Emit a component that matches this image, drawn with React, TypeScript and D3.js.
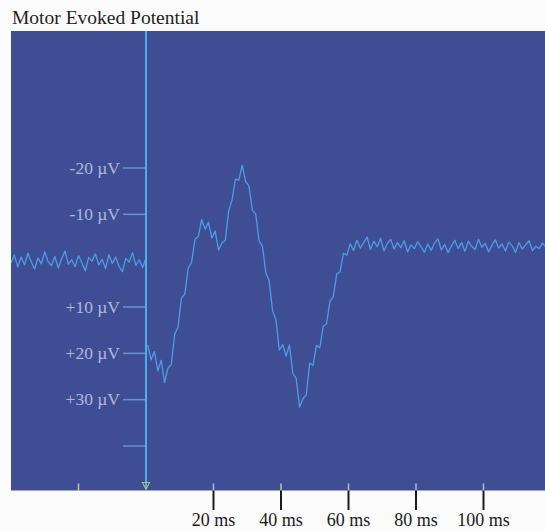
import React, { useEffect, useRef } from "react";
import * as d3 from "d3";

// ---- data ----
const TITLE = "Motor Evoked Potential";
const yTickValues = [-20, -10, 10, 20, 30, 40];
const yTickLabels = ["-20 µV", "-10 µV", "+10 µV", "+20 µV", "+30 µV", ""];
const xTickValues = [20, 40, 60, 80, 100];
const xTickLabels = ["20 ms", "40 ms", "60 ms", "80 ms", "100 ms"];
const panelTickValues = [-20, 0, 20, 40, 60, 80, 100];

// pre-stimulus samples (µV, positive down), start -40 ms, step 1 ms
const preStart = -40;
const preStep = 1;
const preValues = [
  0.5, -1.2, 1.4, -0.8, 0.9, -1.6, 0.3, 1.8, -0.6, 0.7, -1.9, 0.2, 1.1, -0.9,
  1.6, -0.4, -2.1, 0.8, -0.2, 1.3, -1.1, 0.4, 2.2, -0.7, 0.1, -1.5, 0.9, -0.3,
  1.7, -1.3, 0.6, -0.8, 1.2, 2.4, -0.5, 0.3, -1.7, 1.0, -0.2, 1.5, -0.6,
];

// post-stimulus samples (µV, positive down), start 0.5 ms, step 1 ms
const postStart = 0.5;
const postStep = 1;
const postValues = [
  18.2, 21.4, 19.6, 23.8, 21.5, 26.3, 23.2, 22.4, 15.9, 14.3, 8.1, 7.2, 1.6,
  0.4, -4.6, -5.2, -8.9, -6.8, -8.3, -4.9, -6.4, -2.3, -3.8, -4.4, -10.8,
  -13.1, -17.6, -17.4, -20.6, -17.1, -16.2, -10.9, -10.1, -4.3, -3.1, 2.6, 4.4,
  10.8, 12.7, 19.3, 18.1, 20.6, 18.2, 24.3, 25.4, 31.6, 29.8, 28.9, 22.1, 22.6,
  18.3, 18.8, 14.2, 13.6, 8.8, 7.7, 2.9, 2.4, -1.6, -1.2, -3.6, -2.2, -4.4,
  -2.7, -3.9, -5.1, -2.4, -4.2, -3.0, -4.8, -2.1, -3.7, -4.6, -2.5, -3.9, -2.8,
  -4.3, -1.9, -3.4, -2.6, -4.1, -3.0, -1.8, -3.6, -2.2, -3.8, -4.7, -2.3, -3.5,
  -1.7, -3.2, -4.4, -2.6, -3.9, -2.0, -4.2, -3.1, -2.4, -4.6, -2.9, -3.7, -1.9,
  -3.3, -4.5, -2.7, -3.6, -2.1, -4.0, -3.2, -1.8, -3.9, -2.5, -3.4, -4.3, -2.2,
  -3.1, -2.6, -3.8, -2.9,
];

const W = 545;
const H = 531;
const panel = { x0: 11, x1: 545, y0: 31, y1: 490.5 };

export default function App() {
  const ref = useRef<SVGSVGElement | null>(null);

  useEffect(() => {
    const svg = d3.select(ref.current);
    svg.selectAll("*").remove();

    const x = d3.scaleLinear().domain([0, 100]).range([146, 483.5]);
    const y = d3.scaleLinear().domain([-20, 40]).range([168, 446]);

    svg.append("rect").attr("width", W).attr("height", H).attr("fill", "#fbfbfb");

    svg
      .append("text")
      .attr("x", 12)
      .attr("y", 24)
      .attr("font-family", "'Liberation Serif', 'Times New Roman', serif")
      .attr("font-size", 19.5)
      .attr("fill", "#1e1e1e")
      .text(TITLE);

    svg
      .append("rect")
      .attr("x", panel.x0)
      .attr("y", panel.y0)
      .attr("width", panel.x1 - panel.x0)
      .attr("height", panel.y1 - panel.y0)
      .attr("fill", "#3f4e94");

    const defs = svg.append("defs");
    defs
      .append("clipPath")
      .attr("id", "pclip")
      .append("rect")
      .attr("x", panel.x0)
      .attr("y", panel.y0)
      .attr("width", panel.x1 - panel.x0)
      .attr("height", panel.y1 - panel.y0);

    // y ticks + labels
    const yg = svg.append("g");
    yTickValues.forEach((v, i) => {
      yg.append("line")
        .attr("x1", 123)
        .attr("x2", x(0))
        .attr("y1", y(v))
        .attr("y2", y(v))
        .attr("stroke", "#6f8fd0")
        .attr("stroke-width", 1.5);
      if (yTickLabels[i]) {
        yg.append("text")
          .attr("x", 120)
          .attr("y", y(v) + 5.5)
          .attr("text-anchor", "end")
          .attr("font-family", "'Liberation Serif', 'Times New Roman', serif")
          .attr("font-size", 17.5)
          .attr("fill", "#aeb8dc")
          .text(yTickLabels[i]);
      }
    });

    // small ticks at panel bottom
    panelTickValues.forEach((v) => {
      if (v === 0) return;
      svg
        .append("line")
        .attr("x1", x(v))
        .attr("x2", x(v))
        .attr("y1", panel.y1 - 7)
        .attr("y2", panel.y1)
        .attr("stroke", v === -20 || v === 40 ? "#c8c890" : "#b0b8d8")
        .attr("stroke-width", 1.5);
    });

    // trace
    const line = d3
      .line<[number, number]>()
      .x((d) => x(d[0]))
      .y((d) => y(d[1]));
    const pre: [number, number][] = preValues.map((v, i) => [preStart + i * preStep, v]);
    const post: [number, number][] = postValues.map((v, i) => [postStart + i * postStep, v]);
    const tg = svg.append("g").attr("clip-path", "url(#pclip)");
    [pre, post].forEach((data) => {
      tg.append("path")
        .attr("d", line(data) || "")
        .attr("fill", "none")
        .attr("stroke", "#4d9de0")
        .attr("stroke-width", 1.3)
        .attr("stroke-linejoin", "round");
    });

    // stimulus line
    svg
      .append("line")
      .attr("x1", x(0))
      .attr("x2", x(0))
      .attr("y1", panel.y0)
      .attr("y2", panel.y1 - 2)
      .attr("stroke", "#4ab0e6")
      .attr("stroke-width", 2);
    const tx = x(0);
    svg
      .append("path")
      .attr("d", `M${tx - 3.5},${panel.y1 - 8} L${tx + 3.5},${panel.y1 - 8} L${tx},${panel.y1 - 1} Z`)
      .attr("fill", "none")
      .attr("stroke", "#a8c070")
      .attr("stroke-width", 1.2);

    // x ticks below panel
    xTickValues.forEach((v, i) => {
      svg
        .append("line")
        .attr("x1", x(v))
        .attr("x2", x(v))
        .attr("y1", panel.y1)
        .attr("y2", 510)
        .attr("stroke", "#1a1a1a")
        .attr("stroke-width", 2);
      svg
        .append("text")
        .attr("x", x(v))
        .attr("y", 526)
        .attr("text-anchor", "middle")
        .attr("font-family", "'Liberation Serif', 'Times New Roman', serif")
        .attr("font-size", 18)
        .attr("fill", "#1a1a1a")
        .text(xTickLabels[i]);
    });
  }, []);

  return (
    <div style={{ position: "absolute", left: 0, top: 0 }}>
      <svg ref={ref} width={W} height={H} style={{ display: "block" }} />
    </div>
  );
}
